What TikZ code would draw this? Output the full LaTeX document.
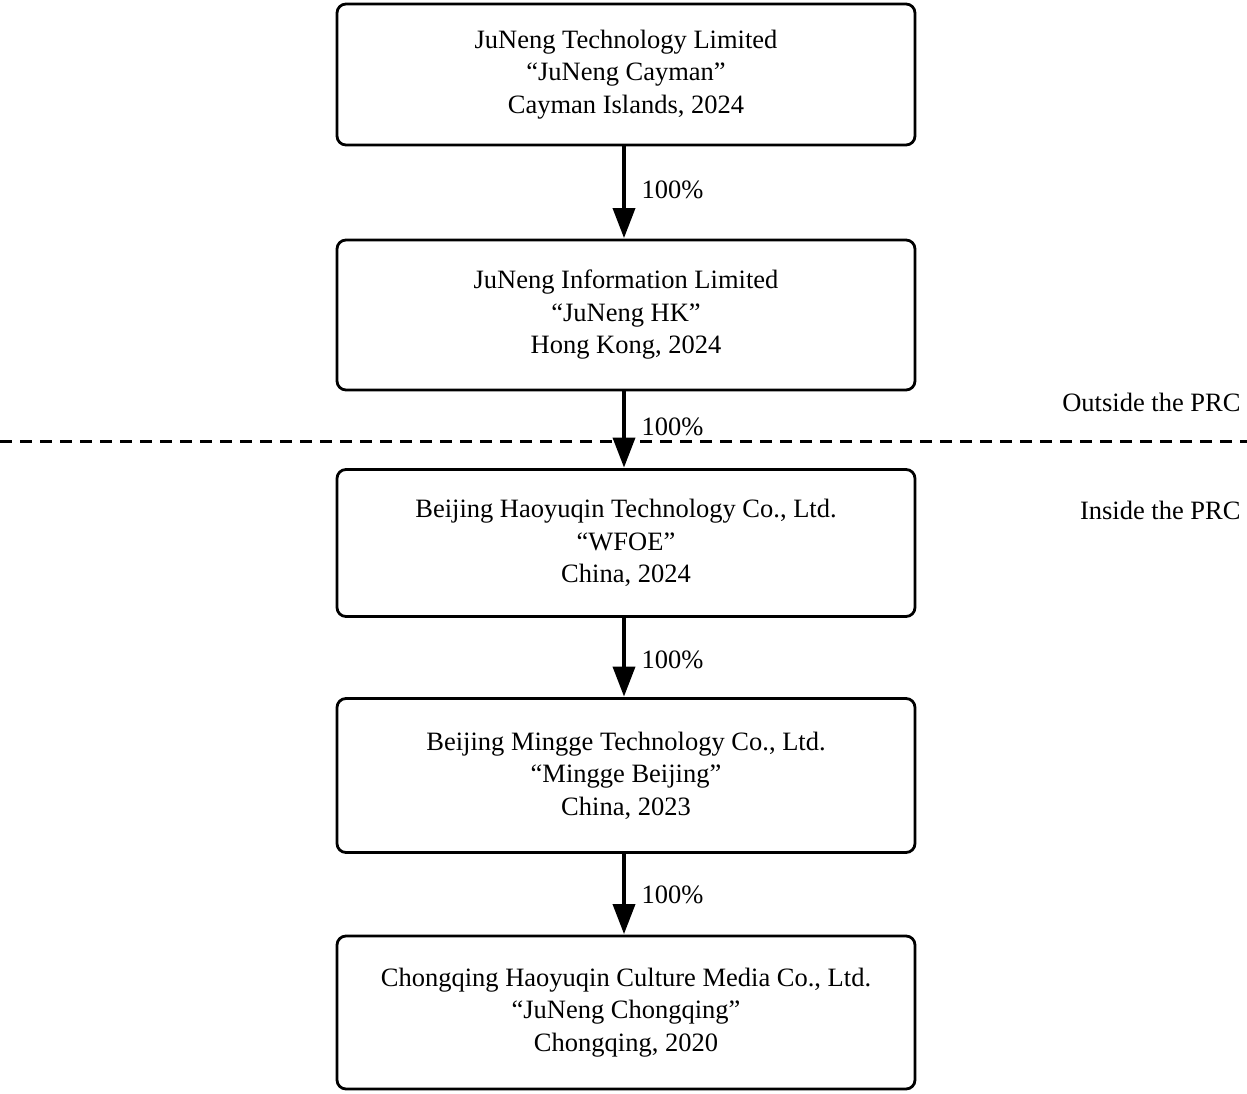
\documentclass[tikz,border=0pt]{standalone}
\usepackage{fontspec}
\setmainfont{Liberation Serif}
\usetikzlibrary{arrows.meta}
\begin{document}
\begin{tikzpicture}[x=1pt,y=-1pt,
  entity/.style={draw, line width=2.8pt, rounded corners=9pt, minimum width=578pt, align=center,
    font=\fontsize{26.5}{32.5}\selectfont, inner sep=0pt},
  own/.style={line width=3.6pt, -{Triangle[width=22pt,length=30pt]}, shorten >=0.5pt},
  pct/.style={font=\fontsize{26.5}{30}\selectfont, anchor=west},
  region/.style={font=\fontsize{26.5}{30}\selectfont, anchor=east}]
\useasboundingbox (0,0) rectangle (1247,1093);
\node[entity, minimum height=141pt] (a) at (626,74.5) {JuNeng Technology Limited\\``JuNeng Cayman''\\Cayman Islands, 2024};
\node[entity, minimum height=150pt] (b) at (626,315) {JuNeng Information Limited\\``JuNeng HK''\\Hong Kong, 2024};
\node[entity, minimum height=147pt] (c) at (626,543) {Beijing Haoyuqin Technology Co., Ltd.\\``WFOE''\\China, 2024};
\node[entity, minimum height=154pt] (d) at (626,775.5) {Beijing Mingge Technology Co., Ltd.\\``Mingge Beijing''\\China, 2023};
\node[entity, minimum height=153pt] (e) at (626,1012.5) {Chongqing Haoyuqin Culture Media Co., Ltd.\\``JuNeng Chongqing''\\Chongqing, 2020};
\coordinate (l1) at (0,441);
\coordinate (l2) at (1247,441);
\draw[line width=3pt, dash pattern=on 12pt off 8pt] (l1) -- (l2);
\draw[own] (a.south -| 624,0) -- (b.north -| 624,0);
\draw[own] (b.south -| 624,0) -- (c.north -| 624,0);
\draw[own] (c.south -| 624,0) -- (d.north -| 624,0);
\draw[own] (d.south -| 624,0) -- (e.north -| 624,0);
\node[pct] (p1) at (638,190) {100\%};
\node[pct] (p2) at (638,427) {100\%};
\node[pct] (p3) at (638,660) {100\%};
\node[pct] (p4) at (638,895) {100\%};
\node[region] (o) at (1244,402) {Outside the PRC};
\node[region] (i) at (1244,510) {Inside the PRC};
\end{tikzpicture}
\end{document}
